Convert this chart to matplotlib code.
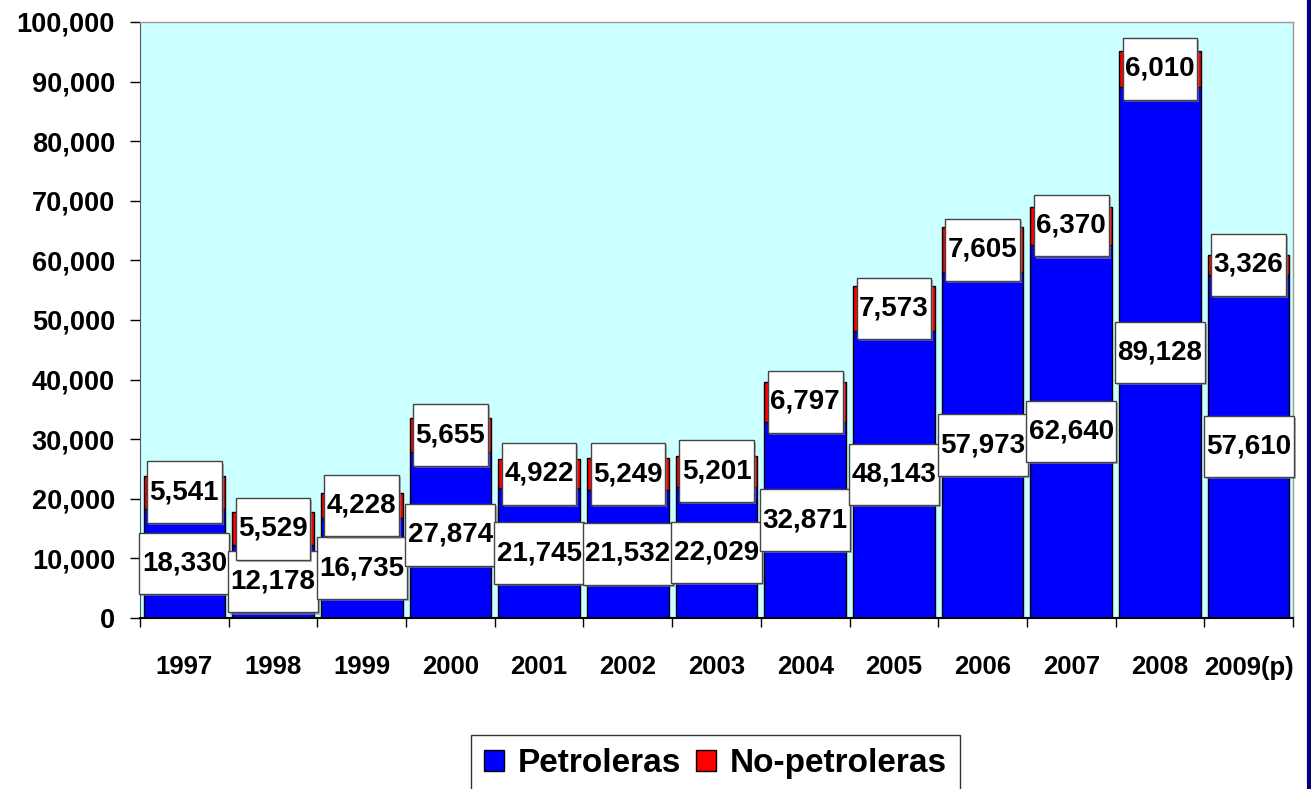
import matplotlib
matplotlib.use("Agg")
import matplotlib.pyplot as plt
from matplotlib.path import Path
from matplotlib.lines import Line2D
import matplotlib.patheffects as pe

years = ["1997", "1998", "1999", "2000", "2001", "2002", "2003",
         "2004", "2005", "2006", "2007", "2008", "2009(p)"]
petroleras = [18330, 12178, 16735, 27874, 21745, 21532, 22029,
              32871, 48143, 57973, 62640, 89128, 57610]
no_petroleras = [5541, 5529, 4228, 5655, 4922, 5249, 5201,
                 6797, 7573, 7605, 6370, 6010, 3326]
y_ticks = list(range(0, 100001, 10000))

plt.rcParams['font.family'] = ['Liberation Sans', 'DejaVu Sans']
plt.rcParams['font.weight'] = 'bold'

W, H = 1311, 789
fig = plt.figure(figsize=(W / 100, H / 100), dpi=100)
ax = fig.add_axes([140 / W, (H - 618) / H, (1293 - 140) / W, (618 - 22) / H])
ax.set_facecolor('#CCFFFF')

x = list(range(len(years)))
ax.bar(x, petroleras, width=0.92, color='#0000FF', edgecolor='black',
       linewidth=1, label='Petroleras', zorder=2)
ax.bar(x, no_petroleras, width=0.92, bottom=petroleras, color='#FF0000',
       edgecolor='black', linewidth=1, label='No-petroleras', zorder=2)

ax.set_xlim(-0.5, len(years) - 0.5)
ax.set_ylim(0, 100000)


def tallbox(x0, y0, width, height, mutation_size):
    padx = 0.09 * mutation_size
    pady = 0.64 * mutation_size
    x0 -= padx
    y0 -= pady
    x1 = x0 + width + 2 * padx
    y1 = y0 + height + 2 * pady
    return Path([(x0, y0), (x1, y0), (x1, y1), (x0, y1), (x0, y0)],
                [Path.MOVETO, Path.LINETO, Path.LINETO, Path.LINETO, Path.CLOSEPOLY])


def label(xc, yc, val):
    t = ax.text(xc, yc, f"{val:,}", ha='center', va='center', fontsize=20,
                fontweight='bold', zorder=5,
                bbox=dict(boxstyle=tallbox, facecolor='white',
                          edgecolor='#444444', linewidth=1))
    t.get_bbox_patch().set_path_effects([
        pe.SimplePatchShadow(offset=(1.5, -1.5), shadow_rgbFace='#888888', alpha=0.6),
        pe.Normal()])


for i in x:
    label(i, petroleras[i] / 2, petroleras[i])
    label(i, petroleras[i] + no_petroleras[i] / 2, no_petroleras[i])

ax.set_yticks(y_ticks)
ax.set_yticklabels([f"{v:,}" for v in y_ticks], fontsize=19.5, fontweight='bold')
ax.tick_params(axis='y', length=7, width=1, pad=11, direction='out')

ax.set_xticks(x)
ax.set_xticklabels(years, fontsize=18.5, fontweight='bold')
ax.set_xticks([i - 0.5 for i in range(len(years) + 1)], minor=True)
ax.tick_params(axis='x', which='major', length=0, pad=27)
ax.tick_params(axis='x', which='minor', length=6.5, width=1, direction='out')

for s in ['top', 'right']:
    ax.spines[s].set_color('#999999')
    ax.spines[s].set_linewidth(1)
ax.spines['left'].set_color('#555555')
ax.spines['bottom'].set_color('black')
ax.spines['bottom'].set_linewidth(1.5)

leg = fig.legend(loc='upper center', bbox_to_anchor=(715.5 / W, 1 - 735 / H),
                 ncol=2, frameon=True, fancybox=False, edgecolor='black',
                 prop={'size': 24, 'weight': 'bold'}, handlelength=0.6,
                 handleheight=0.6, handletextpad=0.4, columnspacing=0.45,
                 borderpad=0.4, borderaxespad=0)
leg.get_frame().set_linewidth(1)

fig.add_artist(Line2D([1309 / W, 1309 / W], [0, 1], transform=fig.transFigure,
                      color='#000080', linewidth=3))

fig.savefig('out.png', dpi=100)
